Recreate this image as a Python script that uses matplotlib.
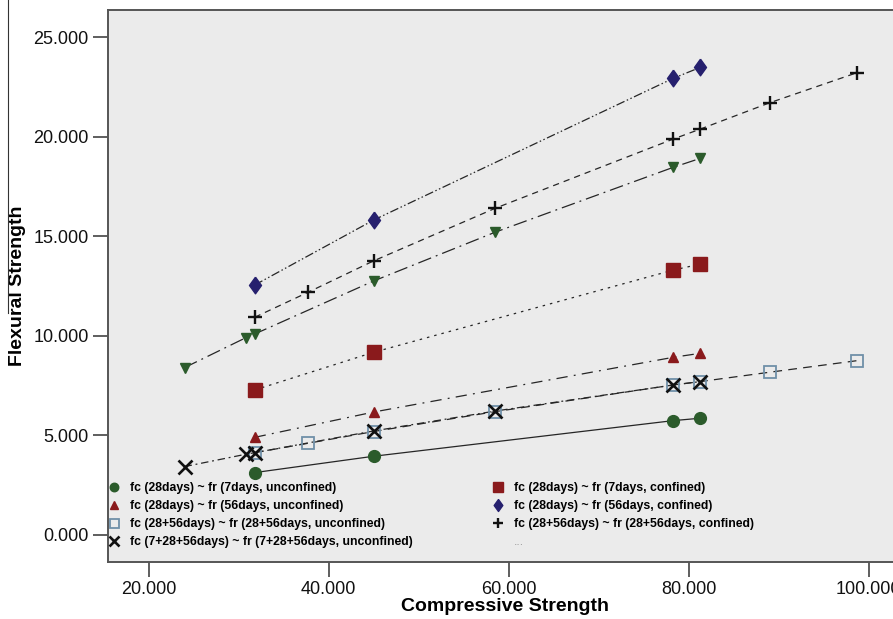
import matplotlib
matplotlib.use("Agg")
import matplotlib.pyplot as plt
from matplotlib.lines import Line2D
import numpy as np

plt.rcParams['font.family'] = ['Liberation Sans', 'DejaVu Sans']

# ---- data ----
fc28 = [31.8, 45.0, 78.3, 81.3]
fc28_56 = [31.8, 37.7, 45.0, 58.5, 78.3, 81.3, 89.0, 98.7]
fc7_28_56 = [24.0, 30.8, 31.8, 45.0, 58.5, 78.3, 81.3]

fr7_unconf = [3.13, 3.95, 5.74, 5.86]
fr56_unconf = [4.90, 6.17, 8.92, 9.12]
fr28_56_unconf = [4.13, 4.60, 5.19, 6.19, 7.53, 7.70, 8.17, 8.75]
fr7_28_56_unconf = [3.43, 4.05, 4.13, 5.22, 6.22, 7.53, 7.70]
fr7_conf = [7.28, 9.17, 13.30, 13.60]
fr56_conf = [12.55, 15.81, 22.93, 23.48]
fr28_56_conf = [10.93, 12.18, 13.76, 16.40, 19.88, 20.38, 21.70, 23.21]
fr7_28_56_conf = [8.40, 9.90, 10.09, 12.75, 15.20, 18.46, 18.91]

labels = [
    "fc (28days) ~ fr (7days, unconfined)",
    "fc (28days) ~ fr (56days, unconfined)",
    "fc (28+56days) ~ fr (28+56days, unconfined)",
    "fc (7+28+56days) ~ fr (7+28+56days, unconfined)",
    "fc (28days) ~ fr (7days, confined)",
    "fc (28days) ~ fr (56days, confined)",
    "fc (28+56days) ~ fr (28+56days, confined)",
    "...",
]
xticks = [20, 40, 60, 80, 100]
yticks = [0, 5, 10, 15, 20, 25]

# ---- styles ----
green = "#2B5B2B"
red = "#8A1A1C"
navy = "#26206E"
steel = "#7090A8"
lc = "#262626"
diamond = [(0, 1), (0.72, 0), (0, -1), (-0.72, 0), (0, 1)]

fig = plt.figure(figsize=(8.93, 6.19), dpi=100)
ax = fig.add_axes([108/893, 1-562/619, 1.01-108/893, (562-10)/619])
ax.set_facecolor("#EBEBEB")

series = [
    (fc28, fr7_unconf, dict(marker='o', ms=8.5, mfc=green, mec=green), '-'),
    (fc28, fr56_unconf, dict(marker='^', ms=7.5, mfc=red, mec=red), (0, (9, 5, 1.5, 5))),
    (fc28_56, fr28_56_unconf, dict(marker='s', ms=9, mfc='none', mec=steel, mew=1.3), (0, (7, 5))),
    (fc7_28_56, fr7_28_56_unconf, dict(marker='x', ms=9.5, mfc='k', mec='#111111', mew=1.9), (0, (6, 3, 1.5, 3))),
    (fc28, fr7_conf, dict(marker='s', ms=9.5, mfc=red, mec=red), (0, (2, 4))),
    (fc28, fr56_conf, dict(marker=diamond, ms=12, mfc=navy, mec=navy), (0, (7, 2, 1.2, 2, 1.2, 2))),
    (fc28_56, fr28_56_conf, dict(marker='+', ms=10, mec='#111111', mew=1.7), (0, (5, 4))),
    (fc7_28_56, fr7_28_56_conf, dict(marker='v', ms=7.5, mfc=green, mec=green), (0, (11, 4, 1.5, 4))),
]

handles = []
for x, y, mk, ls in series:
    ax.plot(x, y, color=lc, lw=0.9, linestyle=ls, zorder=2)
    ax.plot(x, y, linestyle='none', zorder=3, **mk)
    handles.append(Line2D([], [], linestyle='none', **mk))

handles[7] = Line2D([], [], linestyle='none', marker='none')

ax.set_xlim(15.5, 103.7)
ax.set_ylim(-1.36, 26.36)
ax.set_xticks(xticks)
ax.set_yticks(yticks)
ax.set_xticklabels([f"{v:.3f}" for v in xticks])
ax.set_yticklabels([f"{v:.3f}" for v in yticks])
ax.tick_params(axis='both', labelsize=13, direction='out', length=11, width=1.1,
               color='#333333', labelcolor='#111111', pad=3)
for s in ax.spines.values():
    s.set_color('#555555')
    s.set_linewidth(1.4)

ax.set_xlabel("Compressive Strength", fontsize=14, fontweight='bold', labelpad=0)
ax.set_ylabel("Flexural Strength", fontsize=14, fontweight='bold', labelpad=5)

leg = ax.legend(handles, labels,
                ncol=2, loc='lower left', bbox_to_anchor=(-0.006, 0.016),
                frameon=False, handlelength=0.9, handletextpad=0.85,
                columnspacing=6.6, labelspacing=0.5, markerscale=0.72,
                prop=dict(size=8.8, weight='bold'), borderaxespad=0.0)
leg.get_texts()[7].set_color('#999999')
leg.get_texts()[7].set_fontweight('normal')

# thin vertical artifact at far left
fig.add_artist(Line2D([8/893, 8/893], [1.0, 1-313/619], transform=fig.transFigure,
                      color='#333333', lw=0.8))

fig.savefig("out.png", dpi=100)
